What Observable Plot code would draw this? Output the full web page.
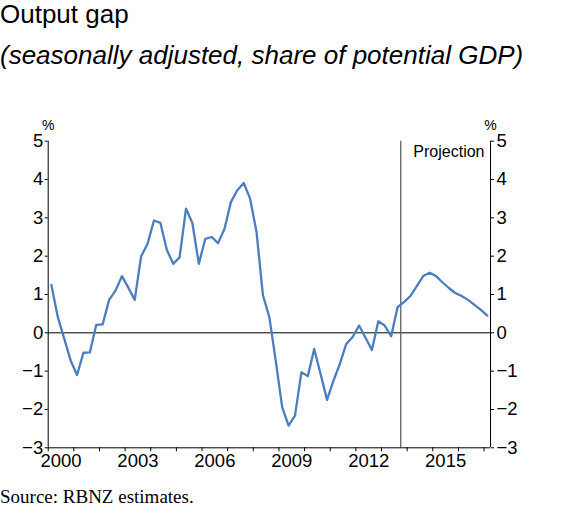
<!DOCTYPE html>
<html>
<head>
<meta charset="utf-8">
<script src="https://cdn.jsdelivr.net/npm/d3@7"></script>
<script src="https://cdn.jsdelivr.net/npm/@observablehq/plot@0.6"></script>
<style>
  html, body { margin: 0; padding: 0; background: #fff; }
  body { width: 576px; overflow: hidden; }
  .title { font-family: "Liberation Sans", Arial, sans-serif; font-size: 26px; line-height: 29px; height: 29px; color: #000; white-space: nowrap; }
  .subtitle { font-family: "Liberation Sans", Arial, sans-serif; font-size: 26px; font-style: italic; line-height: 52px; height: 54px; color: #000; white-space: nowrap; }
  .caption { font-family: "Liberation Serif", "Times New Roman", serif; font-size: 19px; line-height: 27px; height: 27px; color: #000; white-space: nowrap; }
  #chart svg { display: block; }
</style>
</head>
<body>
<div class="title">Output gap</div>
<div class="subtitle">(seasonally adjusted, share of potential GDP)</div>
<div id="chart"></div>
<div class="caption">Source: RBNZ estimates.</div>
<script>
// Quarterly output gap, 2000Q1 – 2017Q1 (%)
const startYear = 2000;
const gapValues = [
  1.25, 0.41, -0.15, -0.72,
  -1.10, -0.52, -0.51, 0.21,
  0.22, 0.86, 1.10, 1.48,
  1.18, 0.86, 2.00, 2.32,
  2.93, 2.87, 2.17, 1.80,
  1.97, 3.24, 2.86, 1.80,
  2.45, 2.50, 2.34, 2.71,
  3.41, 3.72, 3.91, 3.50,
  2.63, 0.98, 0.41, -0.73,
  -1.94, -2.42, -2.16, -1.03,
  -1.13, -0.42, -1.08, -1.75,
  -1.25, -0.81, -0.29, -0.11,
  0.19, -0.13, -0.45, 0.30,
  0.19, -0.09, 0.67, 0.80,
  0.96, 1.22, 1.48, 1.57,
  1.48, 1.32, 1.17, 1.04,
  0.96, 0.86, 0.73, 0.60,
  0.45
];
const xDomain = [2000, 2017.25];
const yDomain = [-3, 5];
const yearTicks = [2000,2001,2002,2003,2004,2005,2006,2007,2008,2009,2010,2011,2012,2013,2014,2015,2016,2017];
const yearLabels = [2000, 2003, 2006, 2009, 2012, 2015];
const yTicks = [-3, -2, -1, 0, 1, 2, 3, 4, 5];
const projectionStart = 2013.75;
const projectionLabel = "Projection";
const unitLabel = "%";

const data = gapValues.map((v, i) => ({
  t: startYear + Math.floor(i / 4) + ((i % 4) + 0.5) / 4,
  v
}));

const fmt = d => d < 0 ? "\u2212" + Math.abs(d) : String(d);
const font = "'Liberation Sans', Arial, sans-serif";

const chart = Plot.plot({
  width: 576,
  height: 400,
  marginTop: 57.7,
  marginBottom: 35.7,
  marginLeft: 47.7,
  marginRight: 86,
  style: { fontFamily: font, fontSize: "18.5px", color: "#000", background: "#fff", overflow: "visible" },
  x: { domain: xDomain, range: [47.7, 490] },
  y: { domain: yDomain },
  marks: [
    Plot.ruleY([0], { x1: xDomain[0], x2: xDomain[1], stroke: "#000", strokeWidth: 1 }),
    Plot.ruleX([projectionStart], { y1: yDomain[0], y2: yDomain[1], stroke: "#555", strokeWidth: 1.2 }),
    Plot.line(data, { x: "t", y: "v", stroke: "#4a7ebf", strokeWidth: 2.3, strokeLinejoin: "round" }),
    Plot.ruleX(xDomain, { y1: yDomain[0], y2: yDomain[1], stroke: "#000", strokeWidth: 1 }),
    Plot.ruleY([yDomain[0]], { x1: xDomain[0], x2: xDomain[1], stroke: "#000", strokeWidth: 1 }),
    Plot.axisX({ ticks: yearTicks, tickSize: 4, tickFormat: () => "", label: null, stroke: "#000" }),
    Plot.axisX({ ticks: yearLabels.map(y => y + 0.5), tickSize: 0, tickPadding: 6.5, tickFormat: d => String(Math.floor(d)), label: null, fontSize: 18.5 }),
    Plot.axisY({ anchor: "left", ticks: yTicks, tickSize: 3, tickPadding: 2, tickFormat: fmt, label: null, fontSize: 18.5, stroke: "#000" }),
    Plot.axisY({ anchor: "right", ticks: yTicks, tickSize: 3, tickPadding: 3, tickFormat: fmt, label: null, fontSize: 18.5, stroke: "#000" }),
    Plot.text([xDomain[0], xDomain[1]], { x: d => d, y: yDomain[1], text: () => unitLabel, textAnchor: "middle", lineAnchor: "bottom", dy: -11.7, fontSize: 14, fill: "#000" }),
    Plot.text([projectionLabel], { x: xDomain[1], y: yDomain[1], text: d => d, textAnchor: "end", lineAnchor: "bottom", dx: -6, dy: 15.3, fontSize: 16, fill: "#000" })
  ]
});

document.getElementById("chart").appendChild(chart);
</script>
</body>
</html>
